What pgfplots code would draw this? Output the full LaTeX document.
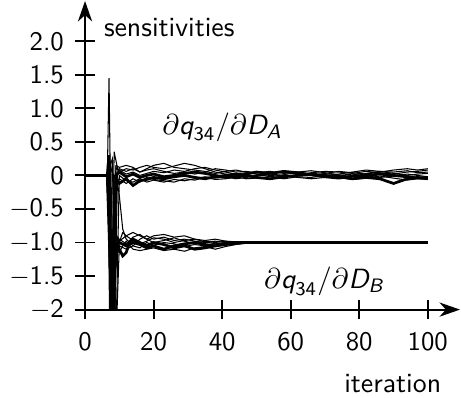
\documentclass[border=0pt]{standalone}
\usepackage{fontspec}
\usepackage{amsmath}
\renewcommand{\familydefault}{\sfdefault}
\usepackage{pgfplots}
\pgfplotsset{compat=1.18}
\usetikzlibrary{arrows.meta}
\begin{document}
\fontsize{10.6}{13}\selectfont
\begin{tikzpicture}
\begin{axis}[
  scale only axis, width=143pt, height=117.7pt,
  xmin=0, xmax=109.4, ymin=-2, ymax=2.6,
  axis lines=left,
  font=\fontsize{10.6}{13}\selectfont,
  axis line style={line width=0.75pt, -{Stealth[length=7.8pt,width=5.4pt,inset=2.4pt]}},
  tick align=center, major tick length=7.5pt,
  tick style={line width=0.75pt, black},
  xtick={0,20,40,60,80,100}, xticklabels={0,20,40,60,80,100},
  ytick={-2,-1.5,-1,-0.5,0,0.5,1,1.5,2},
  yticklabels={$-$2,$-$1.5,$-$1.0,$-$0.5,0,0.5,1.0,1.5,2.0},
  xticklabel style={yshift=-1.2pt, font=\fontsize{10.2}{12}\selectfont},
  yticklabel style={xshift=-0.6pt, font=\fontsize{10.2}{12}\selectfont},
  xlabel={iteration}, ylabel={sensitivities},
  every axis y label/.style={at={(axis description cs:0,1)}, anchor=west, xshift=3.5pt, yshift=-10.3pt},
  every axis x label/.style={at={(axis description cs:1,0)}, anchor=base east, inner xsep=0pt, inner ysep=2pt, xshift=-7pt, yshift=-31.5pt},
  cycle list={{black, line width=1.05pt, line join=round, mark=none}},
]
% dq/dD_A series
\addplot coordinates {(0,0)(6.5,0)(7,1.45)(8,-2.6)(9,0.12)(10,0.05)(12,0.1)(14,0.08)(16,0.12)(18,0.15)(20,0.12)(23,0.1)(26,0.14)(29,0.18)(32,0.15)(35,0.1)(38,0.05)(41,0.02)(44,0.0)(47,-0.02)(50,0.0)(54,0.03)(58,0.05)(62,0.02)(66,0.0)(70,0.03)(74,0.06)(78,0.04)(82,0.02)(86,0.05)(90,0.08)(94,0.1)(97,0.08)(100,0.1)};
\addplot coordinates {(0,0)(6.5,0)(7,0.3)(8,-2.5)(9,-0.05)(10,-0.12)(12,-0.05)(14,-0.15)(16,-0.08)(18,-0.06)(20,-0.03)(23,-0.05)(26,-0.02)(29,0.0)(32,-0.03)(35,-0.05)(38,-0.02)(41,0.0)(44,0.02)(47,0.0)(50,-0.03)(54,-0.05)(58,-0.02)(62,0.0)(66,0.02)(70,0.0)(74,-0.02)(78,-0.05)(82,-0.03)(86,-0.05)(90,-0.12)(94,-0.05)(97,-0.03)(100,-0.05)};
\addplot coordinates {(0,0)(6.5,0)(7,-0.2)(7.5,-2.5)(8.5,0.35)(9.5,0.1)(10,0.08)(12,0.02)(14,0.05)(16,0.0)(18,0.03)(20,0.06)(23,0.04)(26,0.08)(29,0.06)(32,0.1)(35,0.12)(38,0.08)(41,0.05)(44,0.02)(47,0.04)(50,0.02)(54,0.0)(58,-0.02)(62,0.01)(66,0.04)(70,0.06)(74,0.05)(78,0.03)(82,0.06)(86,0.04)(90,0.02)(94,0.05)(97,0.06)(100,0.08)};
\addplot coordinates {(0,0)(6.5,0)(7,0.1)(8,0.25)(9,-2.5)(10,0.0)(12,-0.08)(14,-0.1)(16,-0.05)(18,-0.1)(20,-0.07)(23,-0.1)(26,-0.06)(29,-0.08)(32,-0.05)(35,-0.02)(38,-0.04)(41,-0.02)(44,-0.05)(47,-0.03)(50,-0.01)(54,0.02)(58,0.0)(62,-0.03)(66,-0.05)(70,-0.03)(74,0.0)(78,0.02)(82,-0.01)(86,-0.03)(90,-0.01)(94,0.02)(97,0.0)(100,-0.02)};
\addplot coordinates {(0,0)(6.5,0)(7,0.0)(7.5,0.2)(8.5,-2.5)(9.5,0.05)(10,0.1)(12,0.06)(14,0.1)(16,0.05)(18,0.08)(20,0.1)(23,0.06)(26,0.03)(29,0.05)(32,0.02)(35,0.05)(38,0.1)(41,0.08)(44,0.05)(47,0.06)(50,0.04)(54,0.06)(58,0.03)(62,0.05)(66,0.02)(70,0.0)(74,0.02)(78,0.05)(82,0.08)(86,0.06)(90,0.05)(94,0.07)(97,0.04)(100,0.05)};
\addplot coordinates {(0,0)(6.5,0)(7,-0.5)(8,-2.5)(9,0.0)(10,0.05)(12,-0.02)(14,0.02)(16,-0.03)(18,0.0)(20,0.02)(23,-0.02)(26,0.0)(29,0.03)(32,0.05)(35,0.03)(38,0.0)(41,-0.03)(44,-0.02)(47,0.02)(50,0.05)(54,0.03)(58,0.06)(62,0.04)(66,0.01)(70,-0.02)(74,-0.04)(78,-0.01)(82,0.0)(86,0.02)(90,0.0)(94,-0.02)(97,-0.04)(100,-0.03)};
\addplot coordinates {(0,0)(6.5,0)(7,0.05)(8,-2.5)(9,0.15)(10,0.12)(12,0.15)(14,0.12)(16,0.05)(18,0.1)(20,0.15)(23,0.18)(26,0.12)(29,0.1)(32,0.08)(35,0.06)(38,0.03)(41,0.06)(44,0.08)(47,0.05)(50,0.02)(54,-0.02)(58,0.01)(62,0.05)(66,0.07)(70,0.04)(74,0.01)(78,-0.02)(82,0.03)(86,0.06)(90,0.03)(94,0.0)(97,0.02)(100,0.03)};
\addplot coordinates {(0,0)(6.5,0)(7,0.2)(7.5,-2.5)(8.5,0.0)(9.5,-0.1)(10,-0.05)(12,-0.12)(14,-0.05)(16,-0.1)(18,-0.03)(20,-0.06)(23,-0.08)(26,-0.1)(29,-0.05)(32,-0.07)(35,-0.03)(38,-0.06)(41,-0.05)(44,-0.02)(47,-0.05)(50,-0.04)(54,-0.02)(58,-0.05)(62,-0.02)(66,-0.03)(70,0.0)(74,-0.03)(78,-0.06)(82,-0.04)(86,-0.01)(90,-0.04)(94,-0.07)(97,-0.05)(100,-0.06)};
% dq/dD_B series
\addplot coordinates {(0,0)(6.5,0)(7,0.2)(8,-2.5)(9,0.05)(10,-0.3)(11,-0.8)(12,-0.95)(14,-1.05)(16,-0.95)(18,-0.9)(20,-0.95)(23,-0.92)(26,-0.97)(29,-0.95)(32,-0.98)(35,-1.0)(38,-0.98)(41,-1.0)(44,-1.0)(47,-1.0)(50,-1.0)(100,-1.0)};
\addplot coordinates {(0,0)(6.5,0)(7,-0.3)(7.5,-2.5)(8.5,-1.5)(9.5,-1.0)(10,-1.1)(11,-1.2)(12,-1.15)(13,-1.0)(14,-0.95)(16,-1.0)(18,-1.05)(20,-1.0)(23,-1.03)(26,-1.08)(29,-1.05)(32,-1.1)(35,-1.08)(38,-1.05)(41,-1.03)(44,-1.01)(47,-1.0)(50,-1.0)(100,-1.0)};
\addplot coordinates {(0,0)(6.5,0)(7,0.1)(8,-2.4)(9,-0.9)(10,-0.95)(12,-1.02)(14,-0.92)(16,-0.88)(18,-0.95)(20,-1.0)(23,-0.97)(26,-0.93)(29,-0.98)(32,-1.02)(35,-0.98)(38,-1.0)(41,-0.98)(44,-0.99)(47,-1.0)(50,-1.0)(100,-1.0)};
\addplot coordinates {(0,0)(6.5,0)(7,-0.1)(8,0.15)(9,-2.5)(10,-1.05)(12,-1.1)(14,-1.05)(16,-1.08)(18,-1.0)(20,-1.04)(23,-1.0)(26,-1.02)(29,-1.06)(32,-1.03)(35,-1.05)(38,-1.02)(41,-1.04)(44,-1.02)(47,-1.01)(50,-1.0)(100,-1.0)};
\addplot coordinates {(0,0)(6.5,0)(7,0.0)(7.5,-2.5)(8.5,-1.0)(9.5,-0.92)(10,-0.98)(12,-0.9)(14,-0.97)(16,-1.02)(18,-0.98)(20,-0.93)(23,-0.95)(26,-1.0)(29,-0.97)(32,-0.95)(35,-0.99)(38,-1.02)(41,-1.0)(44,-0.99)(47,-1.0)(100,-1.0)};
\addplot coordinates {(0,0)(6.5,0)(7,-0.8)(8,-2.5)(9,-1.05)(10,-1.0)(12,-1.05)(14,-1.0)(16,-1.03)(18,-1.08)(20,-1.05)(23,-1.1)(26,-1.05)(29,-1.02)(32,-1.0)(35,-1.03)(38,-1.05)(41,-1.02)(44,-1.0)(47,-1.0)(50,-1.0)(100,-1.0)};
\addplot coordinates {(0,0)(6.5,0)(7,0.05)(8,-2.5)(9,-1.2)(10,-1.0)(11,-0.85)(12,-0.9)(14,-0.85)(16,-0.9)(18,-0.95)(20,-0.9)(23,-0.88)(26,-0.92)(29,-0.9)(32,-0.95)(35,-0.97)(38,-0.95)(41,-0.98)(44,-1.0)(47,-1.0)(100,-1.0)};
\addplot coordinates {(0,0)(6.5,0)(7,-0.2)(8,-2.5)(9,-1.1)(10,-1.15)(11,-1.05)(12,-0.98)(14,-1.1)(16,-1.12)(18,-1.1)(20,-1.08)(23,-1.12)(26,-1.1)(29,-1.13)(32,-1.08)(35,-1.06)(38,-1.1)(41,-1.06)(44,-1.03)(47,-1.01)(50,-1.0)(100,-1.0)};
\node at (axis cs:40,0.72) {$\partial\text{\itshape q}_{\text{34}}/\partial\text{\itshape D}_{\text{\itshape A}}$};
\node at (axis cs:69.7,-1.58) {$\partial\text{\itshape q}_{\text{34}}/\partial\text{\itshape D}_{\text{\itshape B}}$};
\end{axis}
\end{tikzpicture}
\end{document}
